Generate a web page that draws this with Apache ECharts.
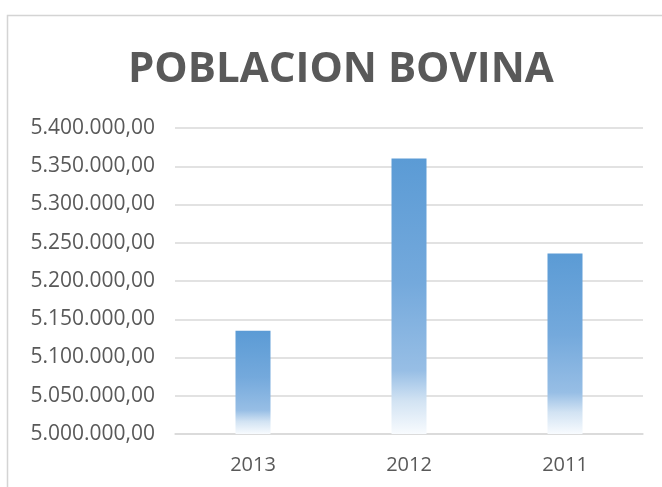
<!DOCTYPE html>
<html>
<head>
<meta charset="utf-8">
<script src="https://cdn.jsdelivr.net/npm/echarts@6/dist/echarts.min.js"></script>
<style>
    html, body { margin: 0; padding: 0; background: #fff; }
    #chart { width: 662px; height: 487px; }
</style>
</head>
<body>
<div id="chart"></div>
<script>
var years = ["2013", "2012", "2011"];
var poblacion = [5135000, 5360000, 5236000];

function formatNumero(v) {
    var s = Math.round(v).toString().replace(/\B(?=(\d{3})+(?!\d))/g, ".");
    return s + ",00";
}

var chart = echarts.init(document.getElementById("chart"));

var option = {
    animation: false,
    backgroundColor: "#ffffff",
    title: {
        text: "POBLACION BOVINA",
        left: 123,
        top: 44,
        textStyle: {
            fontFamily: "Open Sans",
            fontWeight: "bold",
            fontSize: 42,
            color: "#595959"
        }
    },
    graphic: [{
        type: "rect",
        shape: { x: 7.5, y: 15.5, width: 700, height: 520 },
        style: { fill: "none", stroke: "#d4d4d4", lineWidth: 1.5 },
        silent: true
    }],
    grid: {
        left: 175,
        right: 19,
        top: 128,
        bottom: 53
    },
    xAxis: {
        type: "category",
        data: years,
        axisLine: { lineStyle: { color: "#d9d9d9", width: 1.5 } },
        axisTick: { show: false },
        axisLabel: {
            color: "#595959",
            fontFamily: "Open Sans",
            fontSize: 20,
            margin: 21
        }
    },
    yAxis: {
        type: "value",
        min: 5000000,
        max: 5400000,
        interval: 50000,
        axisLine: { show: false },
        axisTick: { show: false },
        splitLine: { lineStyle: { color: "#d9d9d9", width: 1.5 } },
        axisLabel: {
            color: "#595959",
            fontFamily: "Open Sans",
            fontSize: 21,
            margin: 20,
            formatter: formatNumero
        }
    },
    series: [{
        type: "bar",
        data: poblacion,
        barWidth: 35,
        itemStyle: {
            color: new echarts.graphic.LinearGradient(0, 0, 0, 1, [
                { offset: 0, color: "#5b9bd5" },
                { offset: 0.45, color: "#74a9dc" },
                { offset: 0.77, color: "#97bee5" },
                { offset: 0.88, color: "#d2e3f3" },
                { offset: 1, color: "#f8fbfe" }
            ])
        }
    }]
};

chart.setOption(option);
</script>
</body>
</html>
